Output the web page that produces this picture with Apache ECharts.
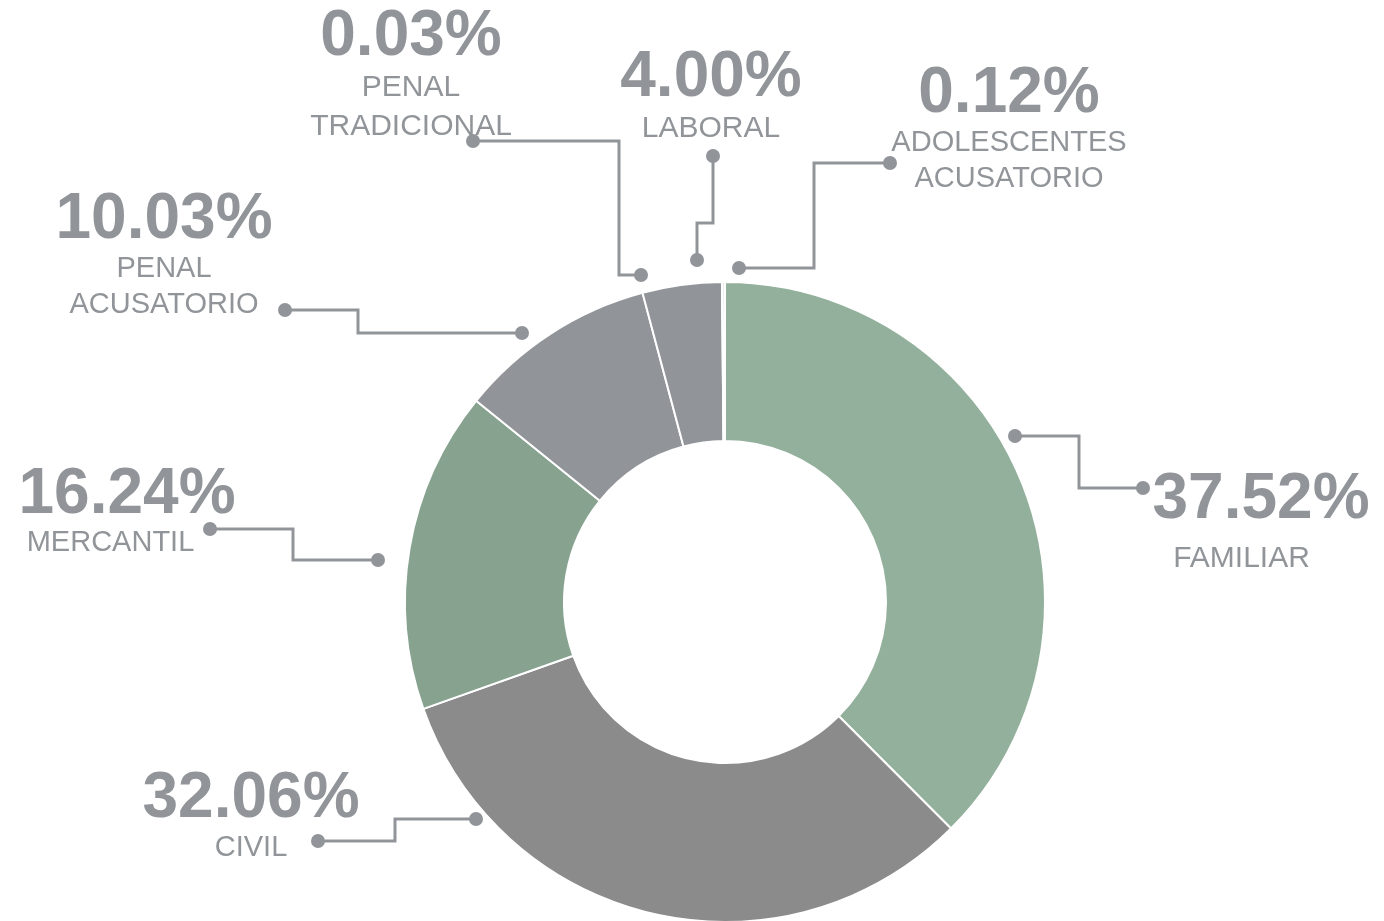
<!DOCTYPE html>
<html>
<head>
<meta charset="utf-8">
<title>Distribución por materia</title>
<script src="https://cdn.jsdelivr.net/npm/echarts@6/dist/echarts.min.js"></script>
<style>
  html, body { margin: 0; padding: 0; background: #fff; }
  #chart { width: 1384px; height: 921px; }
</style>
</head>
<body>
<div id="chart"></div>
<script>
// clockwise from 12 o'clock
const categories = ['FAMILIAR', 'CIVIL', 'MERCANTIL', 'PENAL\nACUSATORIO', 'LABORAL', 'PENAL\nTRADICIONAL', 'ADOLESCENTES\nACUSATORIO'];
const shares = [37.52, 32.06, 16.24, 10.03, 4.00, 0.03, 0.12];

const sliceColors = ['#93b09c', '#8b8b8b', '#87a390', '#919599', '#919599', '#8b8b8b', '#c8ccd0'];
const inkColor = '#919599';

// where each label sits (center x, top y) and which name style it uses
const labelSpots = [[1261, 470], [251, 769], [127, 465], [164, 190], [711, 48], [411, 7], [1009, 64]];
const nameStyles = ['nf', 'n', 'nm', 'n', 'nt', 'nt', 'n'];

// elbow callouts: slice end first, label end last
const callouts = [
  [[1015, 436], [1079, 436], [1079, 488], [1143, 488]],
  [[476, 819], [395, 819], [395, 841], [318, 841]],
  [[378, 560], [293, 560], [293, 529], [210, 529]],
  [[522, 333], [358, 333], [358, 310], [285, 310]],
  [[697, 260], [697, 223], [713, 223], [713, 156]],
  [[641, 275], [619, 275], [619, 141], [473, 141]],
  [[739, 268], [814, 268], [814, 163], [890, 163]]
];

const chart = echarts.init(document.getElementById('chart'));

const graphics = [];
callouts.forEach(function (pts) {
  graphics.push({
    type: 'polyline',
    shape: { points: pts },
    style: { stroke: inkColor, lineWidth: 3, fill: 'none', lineJoin: 'miter' },
    silent: true
  });
  [pts[0], pts[pts.length - 1]].forEach(function (p) {
    graphics.push({
      type: 'circle',
      shape: { cx: p[0], cy: p[1], r: 7 },
      style: { fill: inkColor },
      silent: true
    });
  });
});

const font = '"Liberation Sans", Arial, sans-serif';

chart.setOption({
  backgroundColor: '#ffffff',
  animation: false,
  textStyle: { fontFamily: font },
  graphic: graphics,
  series: [{
    type: 'pie',
    center: [725, 602],
    radius: [161, 320],
    startAngle: 90,
    clockwise: true,
    avoidLabelOverlap: false,
    silent: true,
    itemStyle: { borderColor: '#ffffff', borderWidth: 2 },
    labelLine: { show: false },
    label: {
      show: true,
      color: inkColor,
      formatter: function (params) {
        const i = params.dataIndex;
        const lines = categories[i].split('\n').map(function (t) {
          return '{' + nameStyles[i] + '|' + t + '}';
        });
        return ['{p|' + shares[i].toFixed(2) + '%}'].concat(lines).join('\n');
      },
      rich: {
        p: { fontSize: 64, fontWeight: 'bold', lineHeight: 61, color: inkColor, fontFamily: font },
        n: { fontSize: 29, lineHeight: 36, color: inkColor, fontFamily: font },
        nt: { fontSize: 30, lineHeight: 39, color: inkColor, fontFamily: font },
        nf: { fontSize: 30, lineHeight: 56, padding: [0, 39, 0, 0], color: inkColor, fontFamily: font },
        nm: { fontSize: 29, lineHeight: 33, padding: [0, 33, 0, 0], color: inkColor, fontFamily: font }
      }
    },
    labelLayout: function (params) {
      const s = labelSpots[params.dataIndex];
      return { x: s[0], y: s[1], align: 'center', verticalAlign: 'top' };
    },
    data: categories.map(function (name, i) {
      return { name: name, value: shares[i], itemStyle: { color: sliceColors[i] } };
    })
  }]
});
</script>
</body>
</html>
